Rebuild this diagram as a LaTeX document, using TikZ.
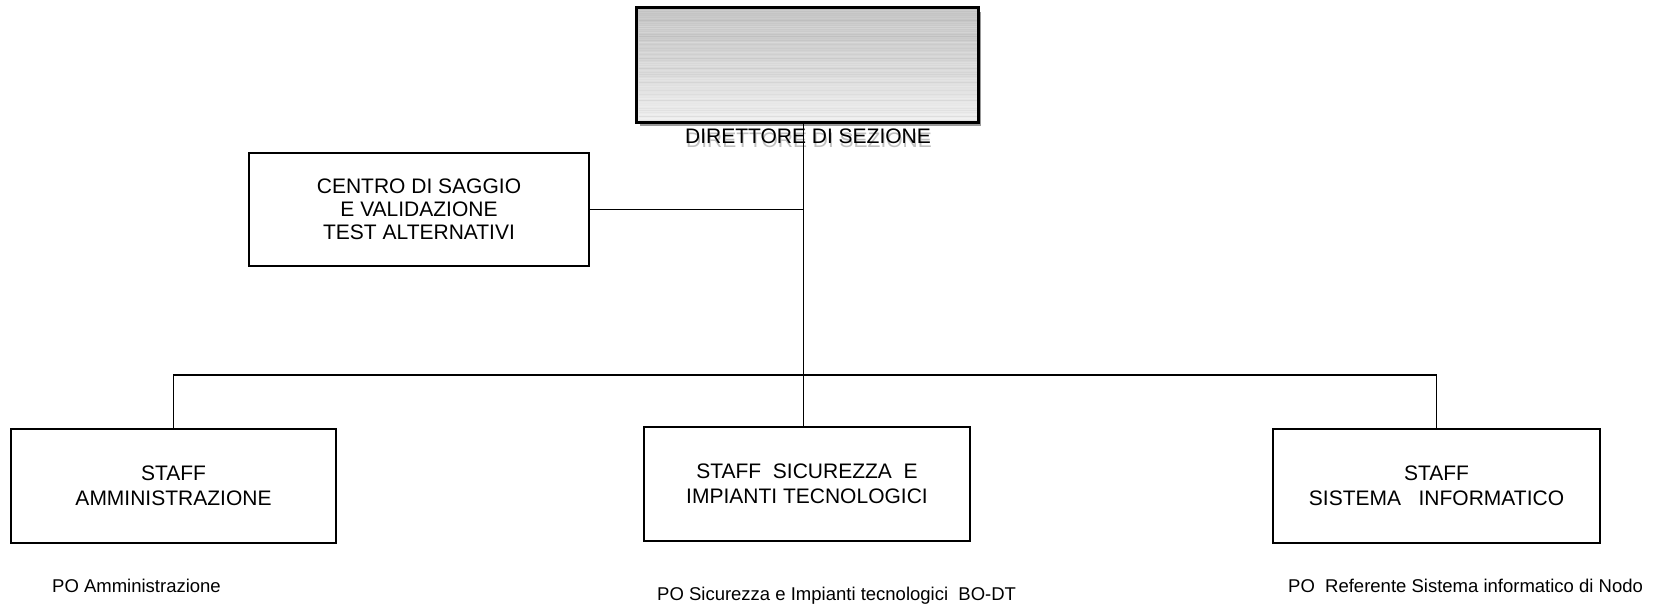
\documentclass[tikz,border=0pt]{standalone}
\usepackage{fontspec}
\setmainfont{Liberation Sans}
\usetikzlibrary{calc,shadows}

\definecolor{headtop}{HTML}{C2C2C2}
\definecolor{headbottom}{HTML}{EFEFEF}

\tikzset{
  unitbox/.style={draw=black, line width=1.8pt, fill=white, inner sep=0pt,
    align=center, font=\fontsize{21}{24.5}\selectfont},
  headbox/.style={draw=black, line width=1.8pt, inner sep=0pt,
    top color=headtop, bottom color=headbottom,
    drop shadow={shadow xshift=2.5pt, shadow yshift=-4.5pt, fill=black!40, opacity=1}},
  link/.style={draw=black, line width=1.8pt},
  potext/.style={inner sep=0pt, anchor=base west, font=\fontsize{18.5}{22}\selectfont},
  headtext/.style={inner sep=0pt, anchor=base, font=\fontsize{21}{24}\selectfont}
}

\begin{document}
\begin{tikzpicture}[x=1pt, y=-1pt]
  \useasboundingbox (0,0) rectangle (1666,609);

  % director box with fine horizontal streaks over a grey gradient
  \node[headbox, minimum width=341pt, minimum height=114pt] (dir) at (807.5,65) {};
  \pgfmathsetseed{11}
  \foreach \i in {0,...,55} {
    \pgfmathsetmacro{\yy}{10+\i*2}
    \pgfmathsetmacro{\op}{0.05+0.2*rnd}
    \pgfmathparse{rnd>0.35 ? 1 : 0}
    \ifnum\pgfmathresult=1
      \draw[white, opacity=\op, line width=0.8pt] (638.5,\yy) -- (976.5,\yy);
    \else
      \draw[black, opacity=\op*0.25, line width=0.6pt] (638.5,\yy) -- (976.5,\yy);
    \fi
  }
  \draw[line width=1.8pt] (dir.north west) rectangle (dir.south east);

  % director caption with its soft shadow
  \node[headtext, text=black!45, opacity=0.55] at (809,148) {DIRETTORE DI SEZIONE};
  \node[headtext] (dirlabel) at (808,144) {DIRETTORE DI SEZIONE};

  % units
  \node[unitbox, minimum width=340pt, minimum height=113pt, font=\fontsize{21}{23}\selectfont] (centro) at (419,209.5)
    {CENTRO DI SAGGIO\\E VALIDAZIONE\\TEST ALTERNATIVI};
  \node[unitbox, minimum width=325pt, minimum height=114pt] (amm) at (173.5,486)
    {STAFF\\AMMINISTRAZIONE};
  \node[unitbox, minimum width=326pt, minimum height=114pt] (sic) at (807,484)
    {STAFF\ \ SICUREZZA\ \ E\\IMPIANTI TECNOLOGICI};
  \node[unitbox, minimum width=327pt, minimum height=114pt] (sis) at (1436.5,486)
    {STAFF\\SISTEMA\ \ \ INFORMATICO};

  % responsible officers
  \node[potext] (po1) at (52,592) {PO Amministrazione};
  \node[potext] (po2) at (657,600) {PO Sicurezza e Impianti tecnologici\ \ BO-DT};
  \node[potext] (po3) at (1288,592) {PO\ \ Referente Sistema informatico di Nodo};

  % connectors
  \coordinate (spine) at (803.5,375);
  \draw[link] (dir.south -| spine) -- (sic.north -| spine);
  \draw[link] (centro.east) -- (centro.east -| spine);
  \draw[link] (amm.north) |- (spine) -| (sis.north);
\end{tikzpicture}
\end{document}
